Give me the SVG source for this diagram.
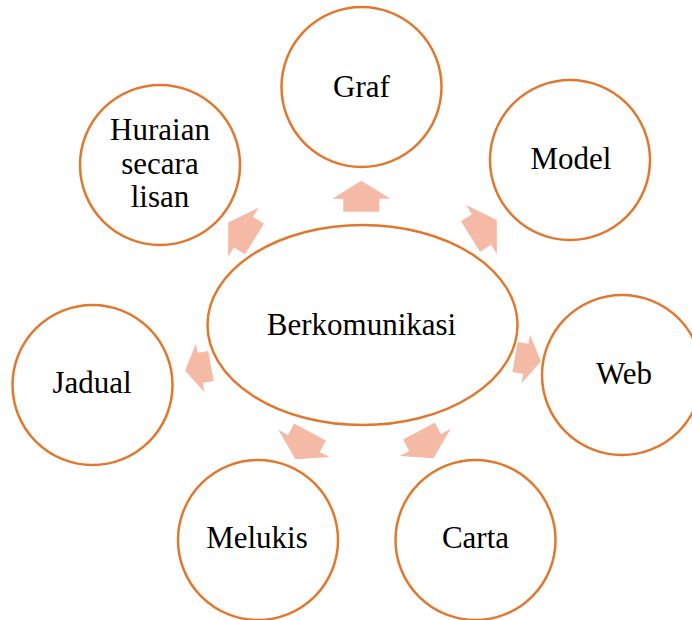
<svg xmlns="http://www.w3.org/2000/svg" width="692" height="620" viewBox="0 0 692 620">
<style>
.node{fill:#FFFFFF;stroke:#E0782F;stroke-width:2.5}
.lbl{font-family:"Liberation Serif","Times New Roman",serif;font-size:31px;fill:#000000;text-anchor:middle}
.arr{fill:#F4BAA5}
</style>
<defs>
<path id="arrow" d="M-18,0 V-13 H-29 L0,-31 L29,-13 H18 V0 Z"/>
</defs>
<rect width="692" height="620" fill="#FFFFFF"/>
<g id="connectors">
<use href="#arrow" class="arr" transform="translate(361.3,211.7) rotate(0)"/>
<use href="#arrow" class="arr" transform="translate(254.5,239) rotate(-58)"/>
<use href="#arrow" class="arr" transform="translate(470.5,236.4) rotate(58)"/>
<use href="#arrow" class="arr" transform="translate(211,366) rotate(-100) scale(0.85)"/>
<use href="#arrow" class="arr" transform="translate(515,357) rotate(100) scale(0.85)"/>
<use href="#arrow" class="arr" transform="translate(310,432) rotate(-152)"/>
<use href="#arrow" class="arr" transform="translate(419,431) rotate(152)"/>
</g>
<g id="center">
<ellipse class="node" cx="362.5" cy="325" rx="155" ry="100"/>
<text class="lbl" x="361.5" y="335">Berkomunikasi</text>
</g>
<g id="graf">
<circle class="node" cx="361.5" cy="87" r="80"/>
<text class="lbl" x="361.5" y="97">Graf</text>
</g>
<g id="huraian">
<circle class="node" cx="160" cy="165" r="80"/>
<text class="lbl" x="160" y="140">Huraian</text>
<text class="lbl" x="160" y="173.5">secara</text>
<text class="lbl" x="160" y="207">lisan</text>
</g>
<g id="model">
<circle class="node" cx="570" cy="160" r="80"/>
<text class="lbl" x="571" y="169">Model</text>
</g>
<g id="web">
<circle class="node" cx="622" cy="375" r="80"/>
<text class="lbl" x="624" y="384">Web</text>
</g>
<g id="jadual">
<circle class="node" cx="92.5" cy="385" r="80"/>
<text class="lbl" x="92" y="393">Jadual</text>
</g>
<g id="melukis">
<circle class="node" cx="258" cy="540" r="80"/>
<text class="lbl" x="257" y="548">Melukis</text>
</g>
<g id="carta">
<circle class="node" cx="475.5" cy="540" r="80"/>
<text class="lbl" x="475.5" y="548">Carta</text>
</g>
</svg>
